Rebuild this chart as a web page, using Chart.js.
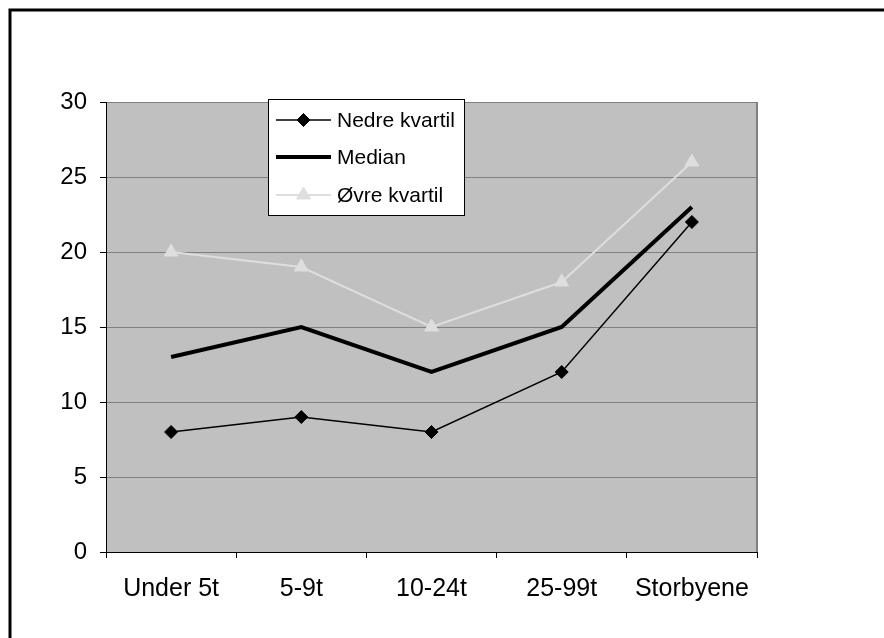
<!DOCTYPE html>
<html>
<head>
<meta charset="utf-8">
<script src="https://cdn.jsdelivr.net/npm/chart.js@4/dist/chart.umd.min.js"></script>
<style>
  body { margin: 0; background: #fff; }
  #wrap { position: relative; width: 884px; height: 638px; }
</style>
</head>
<body>
<div id="wrap"><canvas id="kvartilChart"></canvas></div>
<script>
var categories = ['Under 5t', '5-9t', '10-24t', '25-99t', 'Storbyene'];
var nedreKvartil = [8, 9, 8, 12, 22];
var median = [13, 15, 12, 15, 23];
var ovreKvartil = [20, 19, 15, 18, 26];
var yTicks = [0, 5, 10, 15, 20, 25, 30];

var fontFamily = '"Liberation Sans", Arial, sans-serif';
var lightGrey = '#dedede';

// grey plot background, right edge of the plot and the frame round the figure
var backdrop = {
    id: 'backdrop',
    beforeDraw: function (chart) {
        var ctx = chart.ctx, a = chart.chartArea;
        ctx.save();
        ctx.fillStyle = '#c0c0c0';
        ctx.fillRect(a.left, a.top, a.right - a.left, a.bottom - a.top);
        ctx.restore();
    },
    afterDraw: function (chart) {
        var ctx = chart.ctx, a = chart.chartArea;
        ctx.save();
        ctx.strokeStyle = '#808080';
        ctx.lineWidth = 2;
        ctx.beginPath();
        ctx.moveTo(a.right, a.top);
        ctx.lineTo(a.right, a.bottom);
        ctx.stroke();

        ctx.strokeStyle = '#000';
        ctx.lineWidth = 3;
        ctx.beginPath();
        ctx.moveTo(10, chart.height);
        ctx.lineTo(10, 10);
        ctx.lineTo(chart.width, 10);
        ctx.stroke();
        ctx.restore();
    }
};

// legend box sitting on top of the plot
var boxLegend = {
    id: 'boxLegend',
    afterDraw: function (chart) {
        var ctx = chart.ctx;
        var x = 268, y = 99, w = 196, h = 116;
        var rows = [120, 157, 195];
        ctx.save();
        ctx.fillStyle = '#fff';
        ctx.fillRect(x, y, w, h);
        ctx.strokeStyle = '#000';
        ctx.lineWidth = 1;
        ctx.strokeRect(x + 0.5, y + 0.5, w, h);

        chart.data.datasets.forEach(function (ds, i) {
            var cy = rows[i];
            ctx.strokeStyle = ds.borderColor;
            ctx.lineWidth = ds.borderWidth;
            ctx.beginPath();
            ctx.moveTo(276, cy);
            ctx.lineTo(331, cy);
            ctx.stroke();
            if (ds.pointRadius > 0) {
                ctx.fillStyle = ds.backgroundColor;
                ctx.strokeStyle = ds.borderColor;
                ctx.lineWidth = 1;
                Chart.helpers.drawPoint(ctx, {
                    pointStyle: ds.pointStyle,
                    radius: ds.pointRadius,
                    borderWidth: 1
                }, 303.5, cy);
            }
            ctx.fillStyle = '#000';
            ctx.font = '21px ' + fontFamily;
            ctx.textBaseline = 'middle';
            ctx.textAlign = 'left';
            ctx.fillText(ds.label, 337, cy + 1);
        });
        ctx.restore();
    }
};

var ctx = document.getElementById('kvartilChart');

var kvartilChart = new Chart(ctx, {
    type: 'line',
    data: {
        labels: categories,
        datasets: [{
            label: 'Nedre kvartil',
            data: nedreKvartil,
            borderColor: '#000',
            backgroundColor: '#000',
            borderWidth: 1.5,
            pointStyle: 'rectRot',
            pointRadius: 6.5,
            pointBorderWidth: 1,
            tension: 0
        }, {
            label: 'Median',
            data: median,
            borderColor: '#000',
            backgroundColor: '#000',
            borderWidth: 4,
            pointRadius: 0,
            tension: 0
        }, {
            label: 'Øvre kvartil',
            data: ovreKvartil,
            borderColor: lightGrey,
            backgroundColor: lightGrey,
            borderWidth: 2,
            pointStyle: 'triangle',
            pointRadius: 8,
            pointBorderWidth: 1,
            tension: 0
        }]
    },
    options: {
        responsive: true,
        maintainAspectRatio: false,
        animation: false,
        layout: {
            padding: { top: 102, right: 127, left: 0, bottom: 0 }
        },
        plugins: {
            legend: { display: false },
            tooltip: { enabled: false }
        },
        scales: {
            x: {
                offset: true,
                grid: {
                    offset: true,
                    drawOnChartArea: false,
                    tickLength: 6,
                    tickColor: '#000'
                },
                border: { color: '#000', width: 1 },
                ticks: {
                    color: '#000',
                    padding: 16,
                    maxRotation: 0,
                    font: { family: fontFamily, size: 25 }
                },
                afterFit: function (scale) { scale.height = 86; }
            },
            y: {
                min: 0,
                max: 30,
                afterBuildTicks: function (scale) {
                    scale.ticks = yTicks.map(function (v) { return { value: v }; });
                },
                grid: {
                    color: '#808080',
                    lineWidth: 1,
                    tickLength: 6,
                    tickColor: '#000'
                },
                border: { color: '#000', width: 1 },
                ticks: {
                    color: '#000',
                    padding: 13,
                    font: { family: fontFamily, size: 24 }
                },
                afterFit: function (scale) { scale.width = 106; }
            }
        }
    },
    plugins: [backdrop, boxLegend]
});
</script>
</body>
</html>
